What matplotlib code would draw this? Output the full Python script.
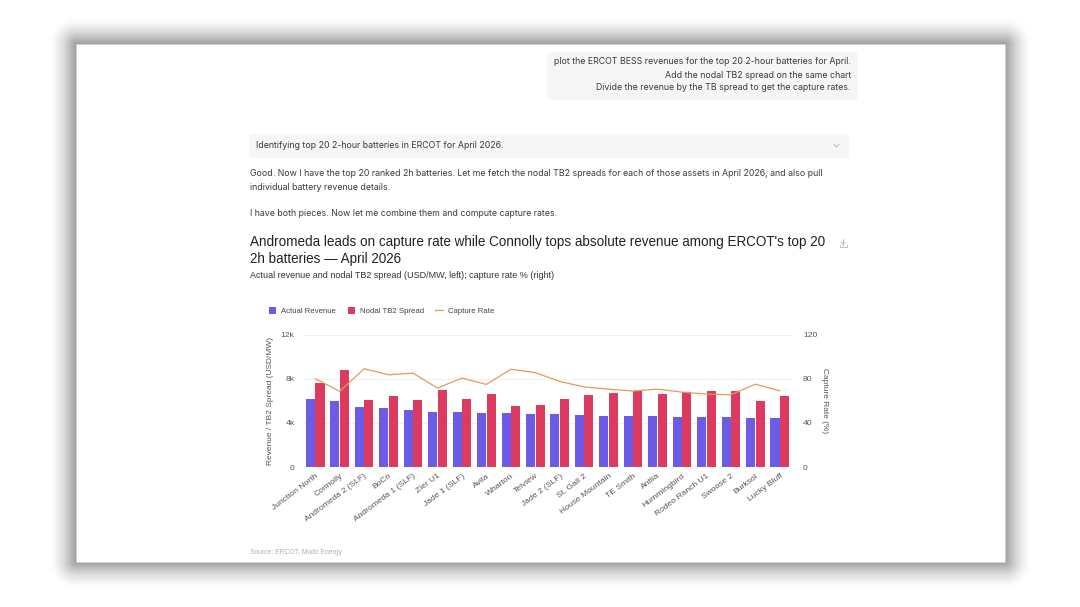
import numpy as np
import matplotlib
matplotlib.use("Agg")
import matplotlib.pyplot as plt
from matplotlib.patches import FancyBboxPatch, Patch
from matplotlib.lines import Line2D

# data (USD/MW and %)
batteries = ["Junction North", "Connolly", "Andromeda 2 (SLF)", "BoCo", "Andromeda 1 (SLF)",
             "Zier U1", "Jade 1 (SLF)", "Avila", "Wharton", "Telview", "Jade 2 (SLF)",
             "St. Gall 2", "House Mountain", "TE Smith", "Antlia", "Hummingbird",
             "Rodeo Ranch U1", "Swoose 2", "Burksol", "Lucky Bluff"]
revenue = [6120, 5940, 5430, 5340, 5160, 4980, 4950, 4860, 4860, 4800,
           4770, 4700, 4640, 4640, 4580, 4520, 4490, 4490, 4430, 4430]
tb2_spread = [7620, 8750, 6090, 6390, 6090, 6990, 6180, 6570, 5520, 5610,
              6180, 6510, 6720, 6840, 6570, 6750, 6870, 6870, 5940, 6450]
capture_rate = [80.0, 68.5, 89.0, 83.5, 85.0, 71.5, 80.5, 74.8, 88.5, 85.5,
                77.5, 72.5, 70.5, 68.8, 70.5, 67.8, 66.0, 65.4, 75.0, 69.0]

W, H = 1080, 607
fig = plt.figure(figsize=(W / 100, H / 100), dpi=100)
fig.patch.set_facecolor("white")

# page background + card shadow
bg = fig.add_axes([0, 0, 1, 1])
bg.set_xlim(0, W)
bg.set_ylim(H, 0)
bg.axis("off")
cx0, cy0, cx1, cy1 = 76, 44, 1005, 562
xx, yy = np.meshgrid(np.arange(W) + 0.5, np.arange(H) + 0.5)
dx = np.maximum(np.maximum(cx0 - xx, xx - cx1), 0)
dy = np.maximum(np.maximum(cy0 - yy, yy - cy1), 0)
d = np.hypot(dx, dy)
shade = 1 - 0.38 * np.clip(1 - d / 27.0, 0, 1) ** 1.6
bg.imshow(np.dstack([shade] * 3), extent=(0, W, H, 0), interpolation="bilinear", zorder=0)
bg.add_patch(plt.Rectangle((cx0, cy0), cx1 - cx0, cy1 - cy0, facecolor="white",
                           edgecolor="#d4d4d4", lw=0.5, zorder=1))

ui = ["Inter", "DejaVu Sans"]
txt = "#3a3a3a"
ui_size = 6.35

# user prompt bubble
bg.add_patch(FancyBboxPatch((547, 52), 311, 48, boxstyle="round,pad=0,rounding_size=5",
                            facecolor="#f6f6f7", edgecolor="none", zorder=2))
prompt = ["plot the ERCOT BESS revenues for the top 20 2-hour batteries for April.",
          "Add the nodal TB2 spread on the same chart",
          "Divide the revenue by the TB spread to get the capture rates."]
for i, line in enumerate(prompt):
    bg.text(851, 62 + i * 13, line, ha="right", va="center", fontsize=ui_size,
            family=ui, color=txt, zorder=3)

# status box
bg.add_patch(FancyBboxPatch((249, 134), 600, 24, boxstyle="round,pad=0,rounding_size=3",
                            facecolor="#f6f6f7", edgecolor="none", zorder=2))
bg.text(256, 146, "Identifying top 20 2-hour batteries in ERCOT for April 2026.",
        ha="left", va="center", fontsize=ui_size, family=ui, color=txt, zorder=3)
bg.plot([834, 836.5, 839], [144.5, 147, 144.5], color="#b0b0b0", lw=0.6, zorder=3)

bg.text(250, 173, "Good. Now I have the top 20 ranked 2h batteries. Let me fetch the nodal TB2 "
        "spreads for each of those assets in April 2026, and also pull",
        ha="left", va="center", fontsize=ui_size, family=ui, color=txt, zorder=3)
bg.text(250, 187, "individual battery revenue details.", ha="left", va="center",
        fontsize=ui_size, family=ui, color=txt, zorder=3)
bg.text(250, 213, "I have both pieces. Now let me combine them and compute capture rates.",
        ha="left", va="center", fontsize=ui_size, family=ui, color=txt, zorder=3)

# chart title block
bg.text(250, 242, "Andromeda leads on capture rate while Connolly tops absolute revenue "
        "among ERCOT's top 20", ha="left", va="center", fontsize=9.75,
        family="Liberation Sans", color="#222222", zorder=3)
bg.text(250, 259, "2h batteries \u2014 April 2026", ha="left", va="center", fontsize=9.75,
        family="Liberation Sans", color="#222222", zorder=3)
bg.text(250, 276, "Actual revenue and nodal TB2 spread (USD/MW, left); capture rate % (right)",
        ha="left", va="center", fontsize=6.5, family="Liberation Sans", color="#333333",
        zorder=3)
# download icon
bg.plot([843, 843], [239, 244.5], color="#b5b5b5", lw=0.6, zorder=3)
bg.plot([841, 843, 845], [242.5, 244.5, 242.5], color="#b5b5b5", lw=0.6, zorder=3)
bg.plot([839.5, 839.5, 846.5, 846.5], [244.5, 246.5, 246.5, 244.5], color="#b5b5b5",
        lw=0.6, zorder=3)

bg.text(250, 553, "Source: ERCOT, Modo Energy", ha="left", va="center", fontsize=4.9,
        family="Liberation Sans", color="#b0b0b0", zorder=3)

# main chart
blue = "#6b5be6"
red = "#dd3a60"
orange = "#e39b5c"
grey = "#555555"
ax_l, ax_r, ax_t, ax_b = 303, 792, 334.5, 467
ax = fig.add_axes([ax_l / W, 1 - ax_b / H, (ax_r - ax_l) / W, (ax_b - ax_t) / H])
ax.patch.set_alpha(0)
x = np.arange(len(batteries))
bw = 0.37
ax.bar(x - bw / 2 - 0.01, revenue, width=bw, color=blue, zorder=2)
ax.bar(x + bw / 2 + 0.01, tb2_spread, width=bw, color=red, zorder=2)
ax.set_xlim(-0.5, len(batteries) - 0.5)
ax.set_ylim(0, 12000)
ax.set_yticks([0, 4000, 8000, 12000])
ax.set_yticklabels(["0", "4k", "8k", "12k"])
ax.grid(axis="y", color="#ececec", lw=0.6, zorder=0)
for s in ax.spines.values():
    s.set_visible(False)
ax.tick_params(length=0, labelsize=6.1, labelcolor=grey, pad=6)
ax.set_xticks(x)
ax.set_xticklabels(batteries, rotation=37, ha="right", rotation_mode="anchor",
                   family="Liberation Sans")
ax.tick_params(axis="x", pad=4)
for t in ax.get_yticklabels():
    t.set_family("Liberation Sans")
ax.set_ylabel("Revenue / TB2 Spread (USD/MW)", fontsize=6, color=grey,
              family="Liberation Sans", labelpad=5)

ax2 = ax.twinx()
ax2.plot(x, capture_rate, color=orange, lw=0.9, zorder=3)
ax2.set_ylim(0, 120)
ax2.set_yticks([0, 40, 80, 120])
for s in ax2.spines.values():
    s.set_visible(False)
ax2.tick_params(length=0, labelsize=6.1, labelcolor=grey, pad=8)
for t in ax2.get_yticklabels():
    t.set_family("Liberation Sans")
ax2.set_ylabel("Capture Rate (%)", fontsize=6, color=grey, family="Liberation Sans",
               rotation=-90, labelpad=8)

handles = [Patch(facecolor=blue), Patch(facecolor=red), Line2D([], [], color=orange, lw=0.9)]
fig.legend(handles, ["Actual Revenue", "Nodal TB2 Spread", "Capture Rate"],
           loc="center left", bbox_to_anchor=(262 / W, 1 - 311 / H), ncol=3, frameon=False,
           prop={"family": "Liberation Sans", "size": 5.6}, labelcolor="#444444",
           handlelength=0.95, handleheight=0.95, handletextpad=0.6, columnspacing=1.5)

fig.savefig("out.png", dpi=100)
